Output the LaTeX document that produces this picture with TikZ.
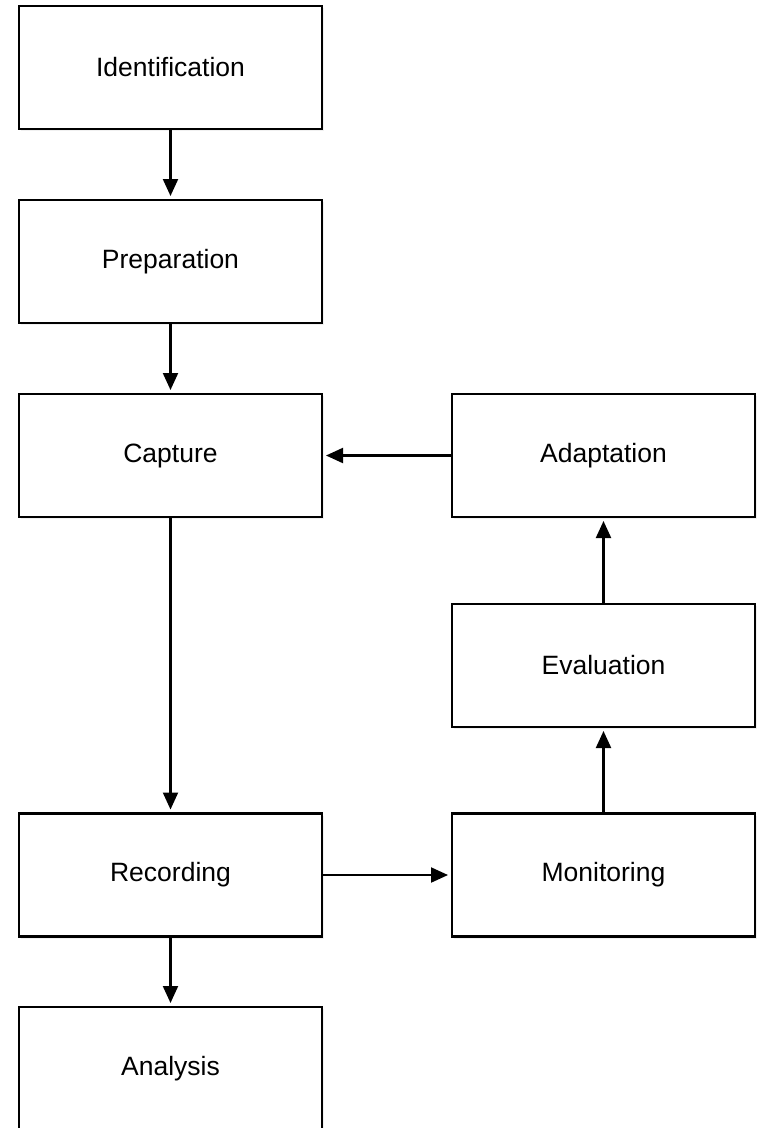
\documentclass[tikz,border=0pt]{standalone}
\usepackage{fontspec}
\setmainfont{Liberation Sans}
\usetikzlibrary{arrows.meta,shadows}
\begin{document}
\begin{tikzpicture}[x=1pt,y=-1pt,
  stage/.style={draw=black, line width=2.1pt, fill=white, rectangle,
    minimum width=303pt, minimum height=123pt, inner sep=0pt, outer sep=0pt,
    font=\fontsize{26.5}{31}\selectfont,
    drop shadow={opacity=0.12, shadow xshift=1.5pt, shadow yshift=-2pt}},
  flow/.style={line width=2.1pt, -{Triangle[length=17pt,width=15pt]}, shorten >=4pt}]
  \useasboundingbox (0,0) rectangle (760,1128);
  \clip (0,0) rectangle (760,1128);

  % left column
  \node[stage] (ident)  at (170.5, 67.5)   {Identification};
  \node[stage] (prep)   at (170.5, 261.5)  {Preparation};
  \node[stage] (capt)   at (170.5, 455.5)  {Capture};
  \node[stage] (rec)    at (170.5, 875)    {Recording};
  \node[stage] (anal)   at (170.5, 1068.5) {Analysis};

  % right column
  \node[stage] (adapt)  at (603.5, 455.5)  {Adaptation};
  \node[stage] (eval)   at (603.5, 665.5)  {Evaluation};
  \node[stage] (mon)    at (603.5, 875)    {Monitoring};

  % connectors
  \draw[flow] (ident.south) -- (prep.north);
  \draw[flow] (prep.south)  -- (capt.north);
  \draw[flow] (capt.south)  -- (rec.north);
  \draw[flow] (rec.south)   -- (anal.north);
  \draw[flow] (rec.east)    -- (mon.west);
  \draw[flow] (mon.north)   -- (eval.south);
  \draw[flow] (eval.north)  -- (adapt.south);
  \draw[flow] (adapt.west)  -- (capt.east);
\end{tikzpicture}
\end{document}
